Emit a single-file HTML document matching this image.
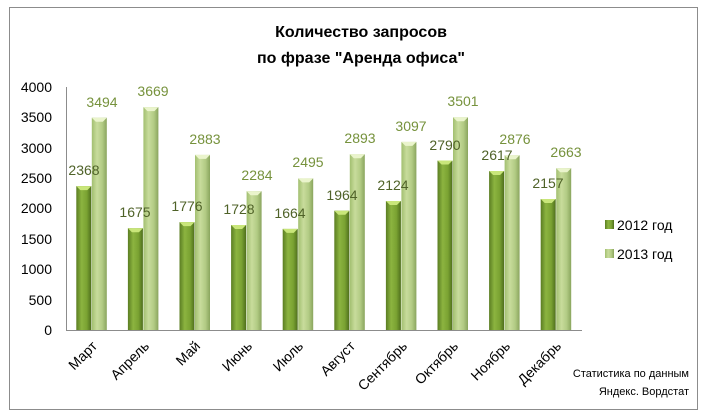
<!DOCTYPE html>
<html><head><meta charset="utf-8"><style>
body{margin:0;background:#fff;}
svg{display:block;font-family:"Liberation Sans","DejaVu Sans",sans-serif;}
</style></head><body>
<svg width="706" height="419" viewBox="0 0 706 419" xmlns="http://www.w3.org/2000/svg">
<defs>
<linearGradient id="g1" x1="0" x2="1" y1="0" y2="0">
<stop offset="0" stop-color="#5a7d22"/><stop offset="0.35" stop-color="#8cb440"/><stop offset="0.7" stop-color="#7aa232"/><stop offset="1" stop-color="#4e6e1c"/></linearGradient>
<linearGradient id="g2" x1="0" x2="1" y1="0" y2="0">
<stop offset="0" stop-color="#a2bf70"/><stop offset="0.35" stop-color="#c8dc9c"/><stop offset="0.7" stop-color="#b2cb84"/><stop offset="1" stop-color="#8aa55e"/></linearGradient>
<polygon id="c1" points="0,0 15,0 11,4 4,4" fill="#c9e67a"/>
<polygon id="c2" points="0,0 15,0 11,4 4,4" fill="#eaf4cc"/>
</defs>
<rect x="9.5" y="7.5" width="688" height="402" fill="#fff" stroke="#8c8c8c"/>
<text x="361" y="37" font-size="16" font-weight="bold" text-anchor="middle" fill="#000">Количество запросов</text>
<text x="361" y="63" font-size="16" font-weight="bold" text-anchor="middle" fill="#000">по фразе "Аренда офиса"</text>
<g font-size="14" fill="#000" text-anchor="end">
<text x="52" y="335">0</text><text x="52" y="305">500</text><text x="52" y="274">1000</text><text x="52" y="244">1500</text><text x="52" y="213">2000</text><text x="52" y="183">2500</text><text x="52" y="153">3000</text><text x="52" y="122">3500</text><text x="52" y="92">4000</text>
</g>
<line x1="66.5" y1="87" x2="66.5" y2="331" stroke="#8c8c8c"/>
<line x1="66" y1="330.5" x2="582" y2="330.5" stroke="#8c8c8c"/>

<g>
<rect x="76.3" y="186.1" width="15" height="143.9" fill="url(#g1)"/><use href="#c1" x="76.3" y="186.1"/>
<rect x="91.8" y="117.7" width="15" height="212.3" fill="url(#g2)"/><use href="#c2" x="91.8" y="117.7"/>
<rect x="127.9" y="228.2" width="15" height="101.8" fill="url(#g1)"/><use href="#c1" x="127.9" y="228.2"/>
<rect x="143.4" y="107.1" width="15" height="222.9" fill="url(#g2)"/><use href="#c2" x="143.4" y="107.1"/>
<rect x="179.5" y="222.1" width="15" height="107.9" fill="url(#g1)"/><use href="#c1" x="179.5" y="222.1"/>
<rect x="195" y="154.9" width="15" height="175.1" fill="url(#g2)"/><use href="#c2" x="195" y="154.9"/>
<rect x="231.1" y="225" width="15" height="105" fill="url(#g1)"/><use href="#c1" x="231.1" y="225"/>
<rect x="246.6" y="191.2" width="15" height="138.8" fill="url(#g2)"/><use href="#c2" x="246.6" y="191.2"/>
<rect x="282.7" y="228.9" width="15" height="101.1" fill="url(#g1)"/><use href="#c1" x="282.7" y="228.9"/>
<rect x="298.2" y="178.4" width="15" height="151.6" fill="url(#g2)"/><use href="#c2" x="298.2" y="178.4"/>
<rect x="334.3" y="210.7" width="15" height="119.3" fill="url(#g1)"/><use href="#c1" x="334.3" y="210.7"/>
<rect x="349.8" y="154.3" width="15" height="175.7" fill="url(#g2)"/><use href="#c2" x="349.8" y="154.3"/>
<rect x="385.9" y="201" width="15" height="129" fill="url(#g1)"/><use href="#c1" x="385.9" y="201"/>
<rect x="401.4" y="141.9" width="15" height="188.1" fill="url(#g2)"/><use href="#c2" x="401.4" y="141.9"/>
<rect x="437.5" y="160.5" width="15" height="169.5" fill="url(#g1)"/><use href="#c1" x="437.5" y="160.5"/>
<rect x="453" y="117.3" width="15" height="212.7" fill="url(#g2)"/><use href="#c2" x="453" y="117.3"/>
<rect x="489.1" y="171" width="15" height="159" fill="url(#g1)"/><use href="#c1" x="489.1" y="171"/>
<rect x="504.6" y="155.3" width="15" height="174.7" fill="url(#g2)"/><use href="#c2" x="504.6" y="155.3"/>
<rect x="540.7" y="199" width="15" height="131" fill="url(#g1)"/><use href="#c1" x="540.7" y="199"/>
<rect x="556.2" y="168.2" width="15" height="161.8" fill="url(#g2)"/><use href="#c2" x="556.2" y="168.2"/>
</g>
<g font-size="14" fill="#4f6228" text-anchor="middle">
<text x="84" y="175">2368</text><text x="135" y="217">1675</text><text x="187" y="211">1776</text><text x="239" y="214">1728</text><text x="290" y="218">1664</text><text x="342" y="200">1964</text><text x="393" y="190">2124</text><text x="445" y="150">2790</text><text x="497" y="160">2617</text><text x="548" y="188">2157</text>
</g>
<g font-size="14" fill="#76923c" text-anchor="middle">
<text x="102" y="107">3494</text><text x="153" y="96">3669</text><text x="205" y="144">2883</text><text x="257" y="180">2284</text><text x="308" y="167">2495</text><text x="360" y="143">2893</text><text x="411" y="131">3097</text><text x="463" y="106">3501</text><text x="515" y="144">2876</text><text x="566" y="157">2663</text>
</g>
<g font-size="14" fill="#000">
<text transform="translate(98,347) rotate(-45)" text-anchor="end">Март</text>
<text transform="translate(150,347) rotate(-45)" text-anchor="end">Апрель</text>
<text transform="translate(201,347) rotate(-45)" text-anchor="end">Май</text>
<text transform="translate(253,347) rotate(-45)" text-anchor="end">Июнь</text>
<text transform="translate(304,347) rotate(-45)" text-anchor="end">Июль</text>
<text transform="translate(356,347) rotate(-45)" text-anchor="end">Август</text>
<text transform="translate(408,347) rotate(-45)" text-anchor="end">Сентябрь</text>
<text transform="translate(459,347) rotate(-45)" text-anchor="end">Октябрь</text>
<text transform="translate(511,347) rotate(-45)" text-anchor="end">Ноябрь</text>
<text transform="translate(562,347) rotate(-45)" text-anchor="end">Декабрь</text>
</g>
<rect x="605" y="220" width="9" height="9" fill="url(#g1)"/>
<text x="617" y="230" font-size="14">2012 год</text>
<rect x="605" y="249" width="9" height="9" fill="url(#g2)"/>
<text x="617" y="259" font-size="14">2013 год</text>
<text x="689" y="377" font-size="11" text-anchor="end">Статистика по данным</text>
<text x="689" y="395" font-size="11" text-anchor="end">Яндекс. Вордстат</text>
</svg>
</body></html>
